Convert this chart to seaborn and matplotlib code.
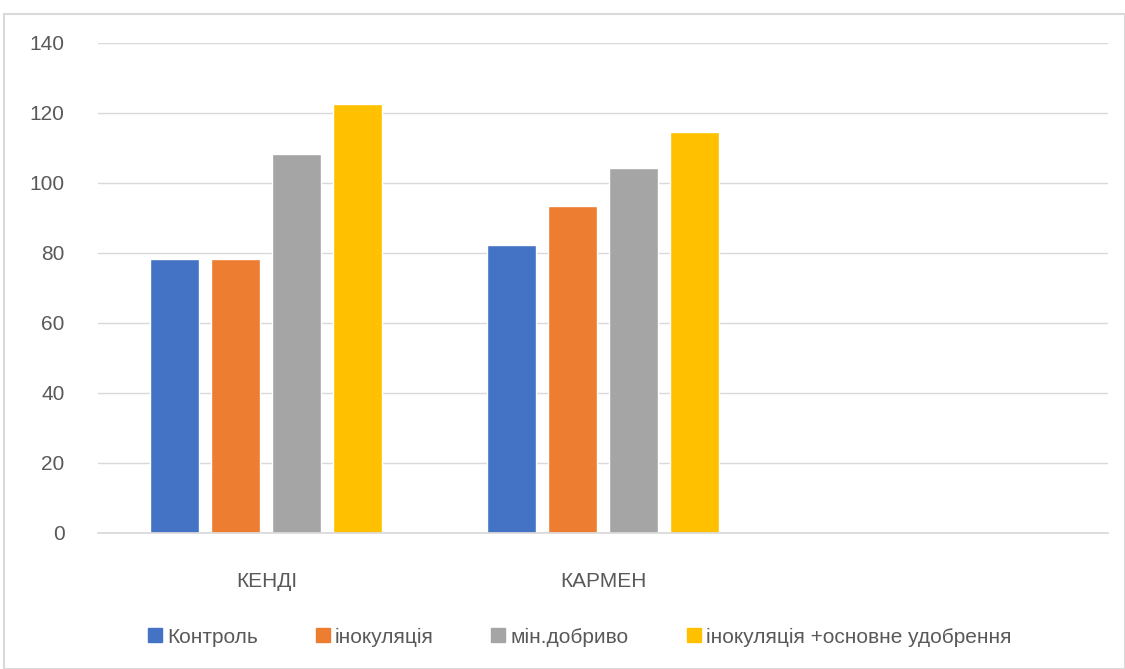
import matplotlib
matplotlib.use("Agg")
import matplotlib.pyplot as plt
import seaborn as sns
import pandas as pd
from matplotlib.patches import Rectangle
from matplotlib.lines import Line2D

categories = ["КЕНДІ", "КАРМЕН", ""]
series_names = ["Контроль", "інокуляція", "мін.добриво", "інокуляція +основне удобрення"]
kendi = [78.3, 78.3, 108.4, 122.6]
karmen = [82.3, 93.3, 104.3, 114.6]
yticks = [0, 20, 40, 60, 80, 100, 120, 140]
colors = ["#4472C4", "#ED7D31", "#A5A5A5", "#FFC000"]

rows = []
for s, v in zip(series_names, kendi):
    rows.append({"cat": categories[0], "series": s, "value": v})
for s, v in zip(series_names, karmen):
    rows.append({"cat": categories[1], "series": s, "value": v})
df = pd.DataFrame(rows)

sns.set_theme(style="white")
plt.rcParams["font.family"] = ["Liberation Sans Narrow", "Liberation Sans", "DejaVu Sans"]

fig = plt.figure(figsize=(11.25, 6.69), dpi=100)
fig.patches.append(Rectangle((4 / 1125, 0), 1 - 4 / 1125, 1 - 14 / 669,
                             transform=fig.transFigure, fill=False,
                             edgecolor="#d9d9d9", linewidth=1.5))
ax = fig.add_axes([98 / 1125, 1 - 533 / 669, (1108 - 98) / 1125, (533 - 43) / 669])

sns.barplot(data=df, x="cat", y="value", hue="series", order=categories,
            hue_order=series_names, palette=colors, width=0.725, gap=0.2,
            ax=ax, legend=False, saturation=1, errorbar=None)

ax.set_xlim(-0.5, 2.5)
ax.set_ylim(0, 140)
ax.set_yticks(yticks)
ax.set_yticklabels([str(t) for t in yticks])
ax.set_xlabel("")
ax.set_ylabel("")
ax.grid(axis="y", color="#d9d9d9", linewidth=1)
ax.set_axisbelow(True)
for sp in ["top", "right", "left"]:
    ax.spines[sp].set_visible(False)
ax.spines["bottom"].set_color("#d9d9d9")
ax.tick_params(axis="both", length=0, labelsize=15, labelcolor="#595959")
ax.tick_params(axis="y", pad=24)
ax.tick_params(axis="x", pad=28)

handles = [Line2D([0], [0], marker="s", linestyle="", markersize=10,
                  markerfacecolor=c, markeredgecolor=c) for c in colors]
fig.legend(handles, series_names, loc="center", bbox_to_anchor=(578 / 1125, 1 - 637 / 669),
           ncol=4, frameon=False, fontsize=15, labelcolor="#595959",
           handletextpad=0.1, columnspacing=2.6, handlelength=1.0)

fig.savefig("out.png", dpi=100)
